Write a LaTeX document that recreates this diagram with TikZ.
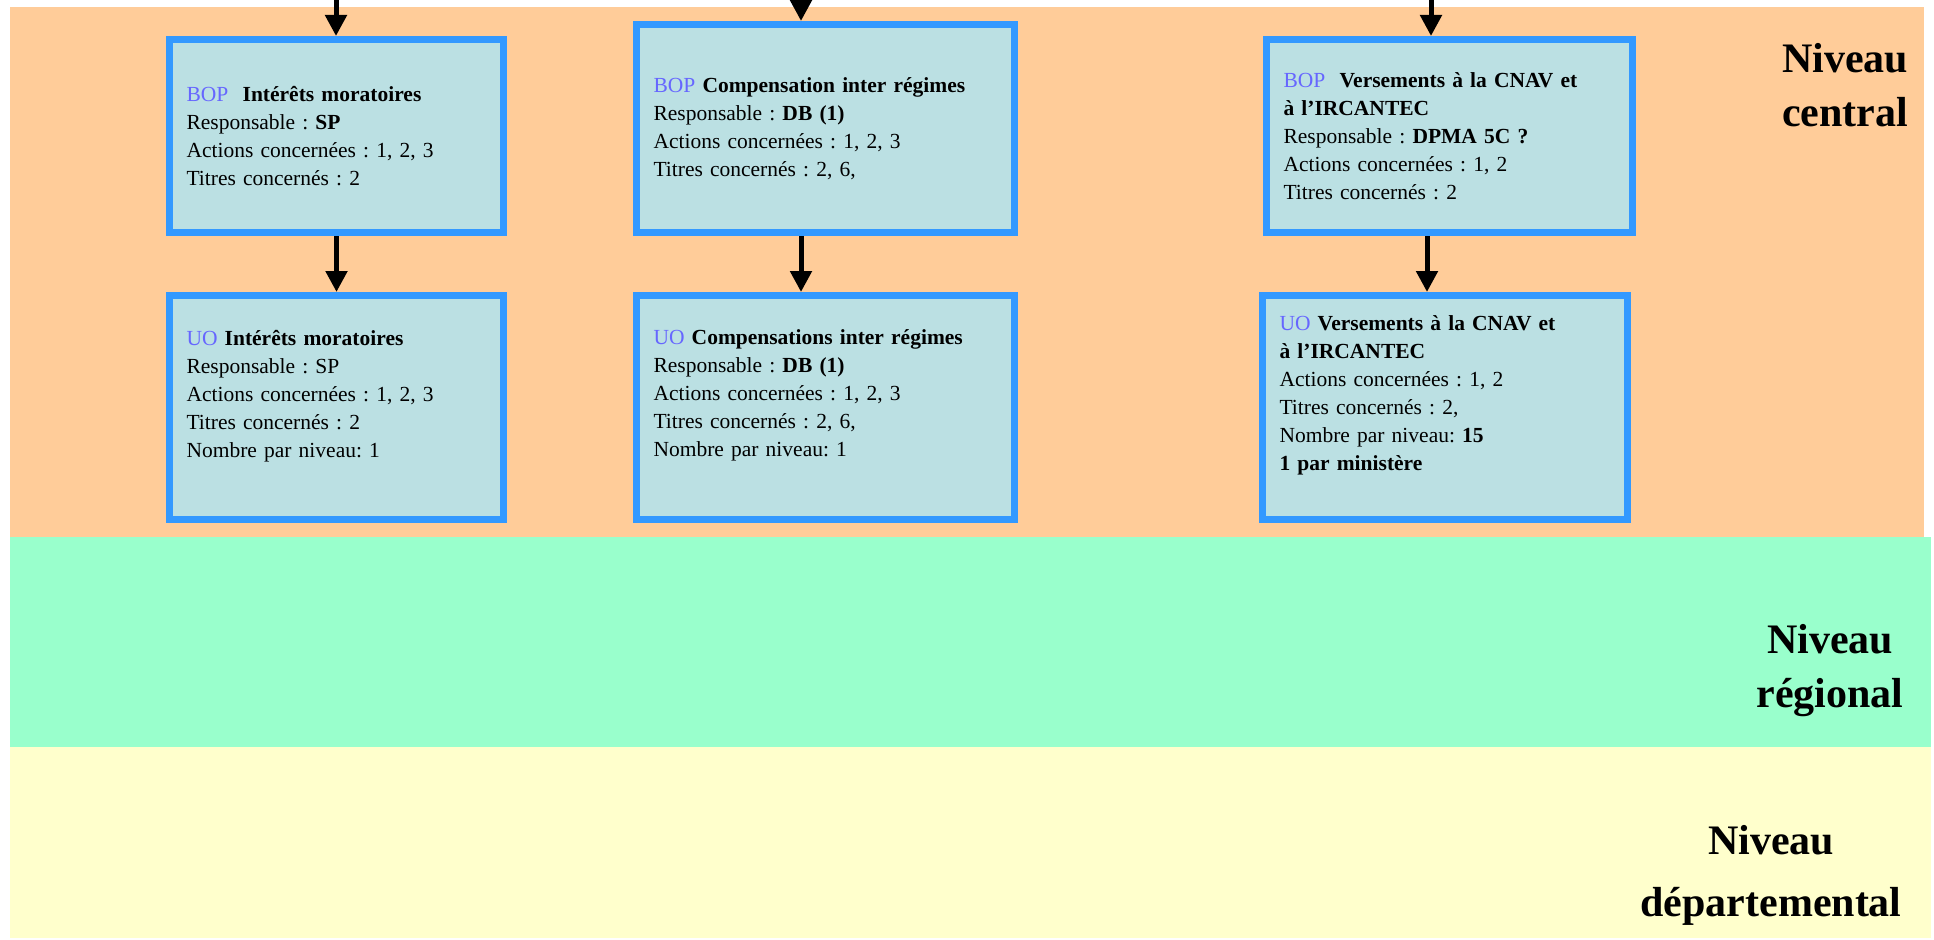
\documentclass[tikz,border=0pt]{standalone}
\usepackage{fontspec}
\setmainfont{Liberation Serif}
\usetikzlibrary{arrows.meta}
\definecolor{orangeclair}{HTML}{FFCC99}
\definecolor{vertclair}{HTML}{99FFCC}
\definecolor{jauneclair}{HTML}{FFFFCC}
\definecolor{fondboite}{HTML}{BBE0E3}
\definecolor{bordure}{HTML}{3399FF}
\definecolor{prefixe}{HTML}{6666FF}
\newcommand{\etiq}[1]{\textcolor{prefixe}{#1}}
\frenchspacing
\tikzset{
  boite/.style={draw=bordure,fill=fondboite,line width=7pt,inner xsep=17pt,inner ysep=0pt,align=left,font=\fontsize{21.5}{28}\selectfont},
  fleche/.style={line width=5pt,-{Triangle[width=21pt,length=21pt]}},
  niveau/.style={font=\fontsize{42}{54}\selectfont\bfseries,align=center}
}
\begin{document}
\begin{tikzpicture}[x=1pt,y=-1pt]

    % Cadre de l'image
    \useasboundingbox (0,0) rectangle (1934,939);

    % Bandes des trois niveaux
    \fill[orangeclair] (10,7) rectangle (1924,537);
    \fill[vertclair] (10,537) rectangle (1931,747);
    \fill[jauneclair] (10,747) rectangle (1931,938);

    % Noms des niveaux
    \node[niveau] (central) at (1845,85) {Niveau\\central};
    \node[niveau] (regional) at (1830,671) {Niveau\\régional};
    \node[niveau,font=\fontsize{42}{62}\selectfont\bfseries] (departemental) at (1771,875) {Niveau\\départemental};

    % Boites BOP
    \node[boite,text width=300pt,minimum height=193pt] (bop1) at (336.5,136) {\etiq{BOP}\ \ \textbf{Intérêts moratoires}\\Responsable : \textbf{SP}\\Actions concernées : 1, 2, 3\\Titres concernés : 2};
    \node[boite,text width=344pt,minimum height=208pt] (bop2) at (825.5,128.5) {\etiq{BOP} \textbf{Compensation inter régimes}\\Responsable : \textbf{DB (1)}\\Actions concernées : 1, 2, 3\\Titres concernés : 2, 6,};
    \node[boite,text width=332pt,minimum height=193pt] (bop3) at (1449.5,136) {\etiq{BOP}\ \ \textbf{Versements à la CNAV et}\\\textbf{à l’IRCANTEC}\\Responsable : \textbf{DPMA 5C ?}\\Actions concernées : 1, 2\\Titres concernés : 2};

    % Boites UO
    \node[boite,text width=300pt,minimum height=224pt] (uo1) at (336.5,407.5) {\etiq{UO} \textbf{Intérêts moratoires}\\Responsable : SP\\Actions concernées : 1, 2, 3\\Titres concernés : 2\\Nombre par niveau: 1\\\mbox{}};
    \node[boite,text width=344pt,minimum height=224pt] (uo2) at (825.5,407.5) {\etiq{UO} \textbf{Compensations inter régimes}\\Responsable : \textbf{DB (1)}\\Actions concernées : 1, 2, 3\\Titres concernés : 2, 6,\\Nombre par niveau: 1\\\mbox{}};
    \node[boite,text width=331pt,minimum height=224pt] (uo3) at (1445,407.5) {\etiq{UO} \textbf{Versements à la CNAV et}\\\textbf{à l’IRCANTEC}\\Actions concernées : 1, 2\\Titres concernés : 2,\\Nombre par niveau: \textbf{15}\\\textbf{1 par ministère}\\\mbox{}};

    % Fleches venant du haut
    \coordinate (h1) at (336,0);
    \coordinate (h2) at (801,0);
    \coordinate (h3) at (1431,0);
    \coordinate (b3) at (1427,0);
    \draw[fleche] (h1) -- (h1 |- bop1.north);
    \draw[fleche] (h2) -- (h2 |- bop2.north);
    \draw[fleche] (h3) -- (h3 |- bop3.north);

    % Fleches BOP vers UO
    \draw[fleche] (bop1.south) -- (uo1.north);
    \draw[fleche] (h2 |- bop2.south) -- (h2 |- uo2.north);
    \draw[fleche] (b3 |- bop3.south) -- (b3 |- uo3.north);

\end{tikzpicture}
\end{document}
